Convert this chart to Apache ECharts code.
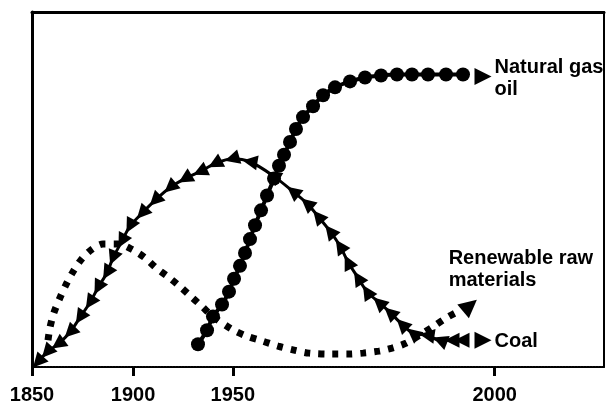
<!DOCTYPE html>
<html><head><meta charset="utf-8">
<script src="https://cdn.jsdelivr.net/npm/echarts@6/dist/echarts.min.js"></script>
<style>html,body{margin:0;padding:0;background:#fff}#c{width:606px;height:405px}</style>
</head><body><div id="c"></div><script>
// x axis is drawn in relative position units (0..100); the reference axis is not linear in years
const tickPositions = [0, 17.66, 35.1, 80.9];
const tickLabels = ['1850', '1900', '1950', '2000'];

const coalX = [1.05,2.62,4.55,6.64,8.39,10.14,11.54,13.11,14.16,15.73,17.13,19.23,21.50,24.13,26.75,29.37,31.99,34.97,38.11,42.13,45.63,48.08,50.00,52.10,53.85,55.25,57.00,58.57,60.67,62.59,64.69,66.61,69.06,71.33,73.43,75.17];
const coalY = [1.40,4.19,6.42,9.78,13.97,18.16,22.35,26.54,30.73,35.47,39.66,43.30,46.93,50.56,53.07,55.03,57.26,58.66,57.82,53.91,49.44,46.09,42.46,38.27,34.08,29.61,25.14,21.23,18.16,15.36,12.01,9.50,8.94,7.54,7.54,7.54];

const oilX = [29.02,30.60,31.64,33.22,34.44,35.32,36.36,37.24,38.11,38.99,40.04,41.09,42.31,43.18,44.06,45.11,46.15,47.38,49.13,50.88,52.97,55.60,58.22,61.02,63.81,66.43,69.23,72.38,75.35];
const oilY = [6.42,10.34,14.25,17.60,21.23,24.86,28.49,32.12,36.03,39.94,44.13,48.32,53.07,56.70,59.78,63.41,67.04,70.39,73.46,76.54,78.77,80.45,81.56,82.12,82.40,82.40,82.40,82.40,82.40];

const renewX = [2.80,3.15,3.85,4.90,5.94,7.17,8.57,10.31,12.41,15.04,17.66,19.76,21.68,23.78,25.70,27.62,29.55,31.64,34.97,37.59,40.39,43.01,45.80,48.43,52.45,55.25,57.87,60.67,62.94,65.39,68.01,70.46,72.55,74.48];
const renewY = [7.54,11.17,15.36,19.55,23.18,26.82,30.17,32.96,34.64,34.64,32.96,30.73,27.93,25.42,22.91,20.11,17.32,14.25,10.61,8.66,7.26,5.87,4.75,3.91,3.63,3.63,3.91,4.47,5.31,6.70,9.22,11.73,13.97,15.64];

const endNames = ['Natural gas\noil', 'Renewable raw\nmaterials', 'Coal'];
const endX = [78.85, 76.57, 78.85];
const endY = [81.84, 17.32, 7.54];

const zip = (xs, ys) => xs.map((x, i) => [x, ys[i]]);
const coalData = zip(coalX, coalY);

// triangle orientation follows the curve (pointing backwards along it)
const PXU = 5.72, PYU = 3.58;
function coalRotate(value, params) {
  const i = params.dataIndex;
  let a, b;
  if (i > 0) { a = coalData[i - 1]; b = coalData[i]; }
  else { b = coalData[0]; const n = coalData[1]; a = [2*b[0]-n[0], 2*b[1]-n[1]]; }
  const th = Math.atan2((a[1] - b[1]) * PYU, (a[0] - b[0]) * PXU) * 180 / Math.PI;
  return th - 90;
}

const font = '"Liberation Sans", Arial, sans-serif';
const endStyles = [
  { rot: -90, size: 17, label: { position: 'right', offset: [-1, 2] } },
  { rot: -50, size: 18, label: { position: 'right', offset: [-38, -36] } },
  { rot: -90, size: 17, label: { position: 'right', offset: [-1, 1] } }
];
const endData = endNames.map((n, i) => ({
  value: [endX[i], endY[i]],
  name: n,
  symbolRotate: endStyles[i].rot,
  symbolSize: endStyles[i].size,
  label: Object.assign({ show: true, formatter: n, distance: 4 }, endStyles[i].label)
}));

const chart = echarts.init(document.getElementById('c'), null, { renderer: 'canvas' });
chart.setOption({
  animation: false,
  backgroundColor: '#fff',
  grid: { left: 32, right: 2, top: 12, bottom: 35, containLabel: false },
  xAxis: [{
    type: 'value', min: 0, max: 100, position: 'bottom',
    axisLine: { show: true, onZero: false, lineStyle: { color: '#000', width: 2, type: [2, 1] } },
    axisTick: { show: true, customValues: tickPositions, length: 9, lineStyle: { color: '#000', width: 3 } },
    axisLabel: {
      show: true, customValues: tickPositions, margin: 18,
      color: '#000', fontFamily: font, fontWeight: 'bold', fontSize: 20,
      formatter: v => { let k = 0, d = 1e9; tickPositions.forEach((p, i) => { if (Math.abs(p - v) < d) { d = Math.abs(p - v); k = i; } }); return tickLabels[k]; }
    },
    splitLine: { show: false }
  }, {
    type: 'value', min: 0, max: 100, position: 'top',
    axisLine: { show: true, onZero: false, lineStyle: { color: '#000', width: 3 } },
    axisTick: { show: false }, axisLabel: { show: false }, splitLine: { show: false }
  }],
  yAxis: [{
    type: 'value', min: 0, max: 100, position: 'left',
    axisLine: { show: true, onZero: false, lineStyle: { color: '#000', width: 3 } },
    axisTick: { show: false }, axisLabel: { show: false }, splitLine: { show: false }
  }, {
    type: 'value', min: 0, max: 100, position: 'right',
    axisLine: { show: true, onZero: false, lineStyle: { color: '#000', width: 2 } },
    axisTick: { show: false }, axisLabel: { show: false }, splitLine: { show: false }
  }],
  series: [{
    type: 'line', name: 'Renewable raw materials', data: zip(renewX, renewY),
    symbol: 'none', smooth: 0.3,
    lineStyle: { color: '#000', width: 7, type: [6, 8], cap: 'butt' }
  }, {
    type: 'line', name: 'Coal', data: coalData,
    symbol: 'triangle', symbolSize: 15, symbolRotate: coalRotate, smooth: 0.3,
    itemStyle: { color: '#000', opacity: 1 },
    lineStyle: { color: '#000', width: 3 }
  }, {
    type: 'line', name: 'Natural gas oil', data: zip(oilX, oilY),
    symbol: 'circle', symbolSize: 14, smooth: 0.3,
    itemStyle: { color: '#000', opacity: 1 },
    lineStyle: { color: '#000', width: 4 }
  }, {
    type: 'scatter', name: 'ends', data: endData, symbol: 'triangle',
    itemStyle: { color: '#000', opacity: 1 },
    label: { color: '#000', opacity: 1, fontFamily: font, fontWeight: 'bold', fontSize: 20, lineHeight: 22 }
  }]
});
</script></body></html>
